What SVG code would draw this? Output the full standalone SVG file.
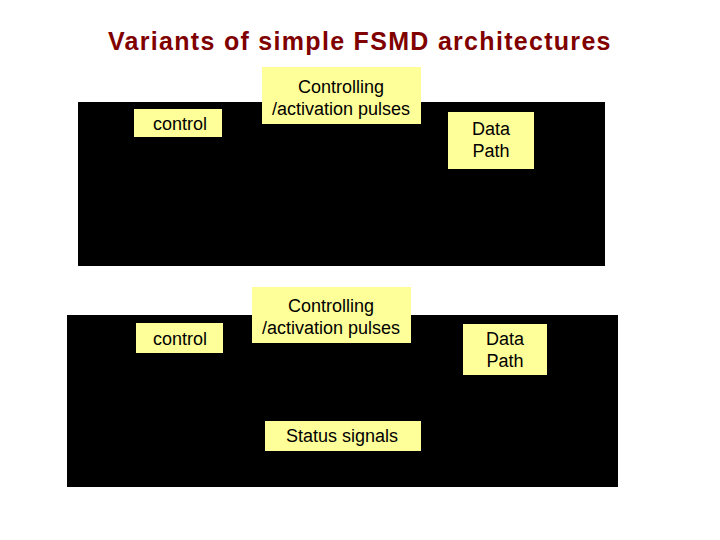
<svg xmlns="http://www.w3.org/2000/svg" width="720" height="540" viewBox="0 0 720 540">
<style>
.bg{fill:#000000}
.lbl{fill:#ffff99}
.t{font-family:"Liberation Sans",Arial,sans-serif;font-size:18px;fill:#000000;text-anchor:middle}
.title{font-family:"Liberation Sans",Arial,sans-serif;font-size:25px;font-weight:bold;fill:#800000;letter-spacing:1.3px}
</style>
<rect width="720" height="540" fill="#ffffff"/>
<text class="title" x="108" y="50">Variants of simple FSMD architectures</text>
<g id="variant1">
<rect class="bg" x="78" y="102" width="527" height="164"/>
<g id="control1"><rect class="lbl" x="134" y="109" width="88" height="28"/><text class="t" x="180" y="129.5">control</text></g>
<g id="pulses1"><rect class="lbl" x="262" y="67" width="159" height="57"/><text class="t" x="341" y="93">Controlling</text><text class="t" x="341" y="115">/activation pulses</text></g>
<g id="datapath1"><rect class="lbl" x="448" y="112" width="86" height="57"/><text class="t" x="491" y="134.5">Data</text><text class="t" x="491" y="156.5">Path</text></g>
</g>
<g id="variant2">
<rect class="bg" x="67" y="315" width="551" height="172"/>
<g id="control2"><rect class="lbl" x="136" y="323" width="87" height="30"/><text class="t" x="180" y="344.5">control</text></g>
<g id="pulses2"><rect class="lbl" x="252" y="287" width="159" height="56"/><text class="t" x="331" y="312">Controlling</text><text class="t" x="331" y="334">/activation pulses</text></g>
<g id="datapath2"><rect class="lbl" x="463" y="324" width="84" height="51"/><text class="t" x="505" y="344.5">Data</text><text class="t" x="505" y="366.5">Path</text></g>
<g id="status2"><rect class="lbl" x="265" y="421" width="156" height="30"/><text class="t" x="342" y="441.5">Status signals</text></g>
</g>
<g id="connectors"/>
</svg>
